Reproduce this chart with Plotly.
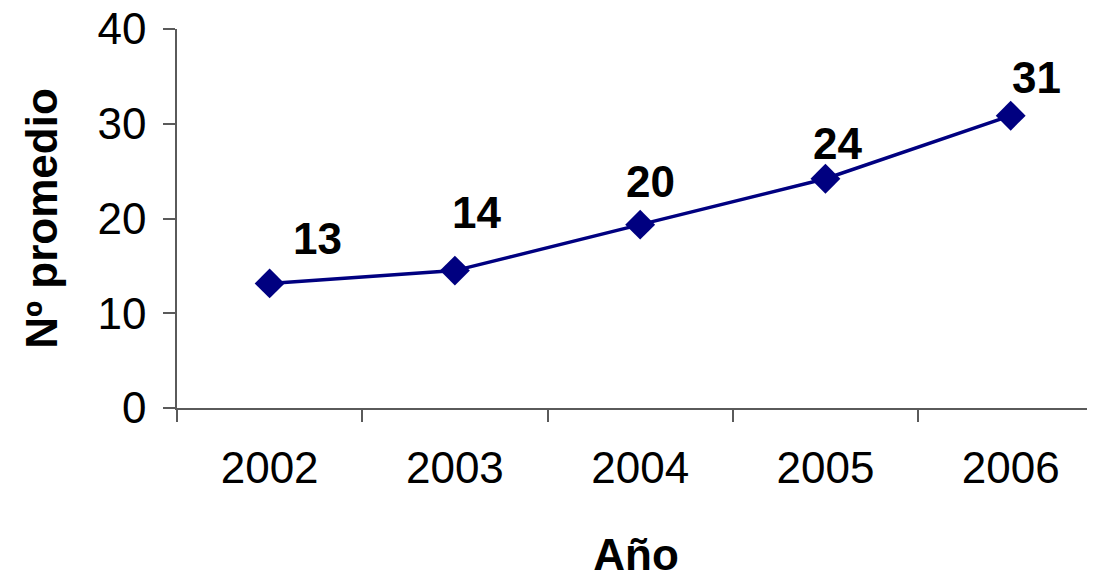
import plotly.graph_objects as go

years = ["2002", "2003", "2004", "2005", "2006"]
promedio = [13.15, 14.5, 19.35, 24.2, 30.85]
labels = ["13", "14", "20", "24", "31"]

# label placement offsets (style)
label_dx = [48, 22, 10, 12, 26]
label_dy = [45, 58, 43, 35, 38]

FONT = "Liberation Sans, Arial, sans-serif"
NAVY = "#000080"
AXC = "#5a5a5a"

fig = go.Figure()
fig.add_trace(go.Scatter(
    x=years, y=promedio, mode="lines+markers",
    line=dict(color=NAVY, width=3.5),
    marker=dict(symbol="diamond", size=23, color=NAVY),
    showlegend=False, hoverinfo="skip",
))

for i, (v, lab, dx, dy) in enumerate(zip(promedio, labels, label_dx, label_dy)):
    fig.add_annotation(
        x=i, y=v, xref="x", yref="y", text=f"<b>{lab}</b>", showarrow=False,
        xshift=dx, yshift=dy,
        font=dict(family=FONT, size=44, color="black"),
    )

# page body has an 8px margin; figure is sized to fill the rest of the window
fig.update_layout(
    width=1087, height=571,
    margin=dict(l=169, r=0, t=21, b=171, autoexpand=False),
    paper_bgcolor="white", plot_bgcolor="white",
    font=dict(family=FONT, color="black"),
)

fig.update_xaxes(
    type="category", range=[-0.5, 4.455], automargin=False,
    showline=True, linecolor=AXC, linewidth=1.5,
    ticks="outside", ticklen=12, tickcolor=AXC, tickwidth=1.5,
    tickson="boundaries",
    showgrid=False, zeroline=False,
    tickfont=dict(family=FONT, size=44, color="black"),
    ticklabelstandoff=20, ticklabeloverflow="allow",
    title=dict(text="<b>Año</b>", font=dict(family=FONT, size=44, color="black"), standoff=50),
)
fig.update_yaxes(
    range=[0, 40], tickvals=[0, 10, 20, 30, 40], automargin=False,
    showline=True, linecolor=AXC, linewidth=1.5,
    ticks="outside", ticklen=12, tickcolor=AXC, tickwidth=1.5,
    showgrid=False, zeroline=False,
    tickfont=dict(family=FONT, size=44, color="black"),
    ticklabelstandoff=8, ticklabeloverflow="allow",
    title=dict(text="<b>Nº promedio</b>", font=dict(family=FONT, size=44, color="black"), standoff=26),
)

fig.write_html("out.html")
